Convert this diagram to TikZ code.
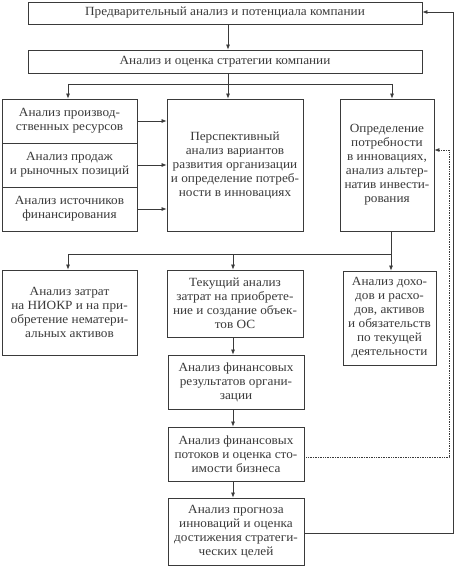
\documentclass[tikz,border=0pt]{standalone}
\usepackage{fontspec}
\setmainfont[FakeStretch=1.06]{Liberation Serif}
\usetikzlibrary{arrows.meta}
\definecolor{ink}{HTML}{3A3A3A}
\begin{document}
\begin{tikzpicture}[x=1pt,y=-1pt,
  box/.style={draw=ink, line width=0.8pt, text=ink, align=center, inner sep=1pt, font=\fontsize{12.5}{14}\selectfont},
  arr/.style={draw=ink, line width=0.7pt, -{Latex[length=5pt,width=4pt]}},
  ln/.style={draw=ink, line width=0.7pt},
]
\fill[white] (0,0) rectangle (455,567);
\useasboundingbox (0,0) rectangle (455,567);

\node[box, minimum width=394pt, minimum height=22pt] (b1) at (225,13) {Предварительный анализ и потенциала компании};
\node[box, minimum width=394pt, minimum height=23pt] (b2) at (225,61.5) {Анализ и оценка стратегии компании};

\node[box, minimum width=135pt, minimum height=44pt] (L1) at (69.5,121) {Анализ производ-\\ственных ресурсов};
\node[box, minimum width=135pt, minimum height=44pt] (L2) at (69.5,165) {Анализ продаж\\и рыночных позиций};
\node[box, minimum width=135pt, minimum height=44pt] (L3) at (69.5,209) {Анализ источников\\финансирования};

\node[box, minimum width=136pt, minimum height=132pt] (C) at (235,165) {Перспективный\\анализ вариантов\\развития организации\\и определение потреб-\\ности в инновациях};
\node[box, minimum width=94pt, minimum height=132pt] (R) at (387,165) {Определение\\потребности\\в инновациях,\\анализ альтер-\\натив инвести-\\рования};

\node[box, minimum width=135pt, minimum height=85pt] (BL) at (69.5,312.5) {Анализ затрат\\на НИОКР и на при-\\обретение нематери-\\альных активов};
\node[box, minimum width=136pt, minimum height=67pt] (BC1) at (235,303.5) {Текущий анализ\\затрат на приобрете-\\ние и создание объек-\\тов ОС};
\node[box, minimum width=93pt, minimum height=94pt] (BR) at (389.5,318) {Анализ дохо-\\дов и расхо-\\дов, активов\\и обязательств\\по текущей\\деятельности};

\node[box, minimum width=136pt, minimum height=54pt] (BC2) at (236,382) {Анализ финансовых\\результатов органи-\\зации};
\node[box, minimum width=136pt, minimum height=54pt] (BC3) at (236,454) {Анализ финансовых\\потоков и оценка сто-\\имости бизнеса};
\node[box, minimum width=136pt, minimum height=67pt] (BC4) at (236,531.5) {Анализ прогноза\\инноваций и оценка\\достижения стратеги-\\ческих целей};

% top connectors
\coordinate (j1) at (228,84);
\coordinate (jl) at (68,84);
\coordinate (jr) at (392,84);
\draw[arr] (j1 |- b1.south) -- (j1 |- b2.north);
\draw[ln] (j1 |- b2.south) -- (j1);
\draw[arr] (j1) -- (j1 |- C.north);
\draw[ln] (jl) -- (jr);
\draw[arr] (jl) -- (jl |- L1.north);
\draw[arr] (jr) -- (jr |- R.north);

\draw[arr] (L1.east) -- (L1.east -| C.west);
\draw[arr] (L2.east) -- (L2.east -| C.west);
\draw[arr] (L3.east) -- (L3.east -| C.west);

% middle connectors
\coordinate (k) at (391,254);
\coordinate (kl) at (68,254);
\coordinate (kc) at (233,254);
\draw[ln] (k |- R.south) -- (k) -- (kl);
\draw[arr] (kl) -- (kl |- BL.north);
\draw[arr] (kc) -- (kc |- BC1.north);
\draw[arr] (k) -- (k |- BR.north);

% chain
\coordinate (v) at (233,0);
\draw[arr] (v |- BC1.south) -- (v |- BC2.north);
\draw[arr] (v |- BC2.south) -- (v |- BC3.north);
\draw[arr] (v |- BC3.south) -- (v |- BC4.north);

% feedback
\coordinate (d1) at (449,457);
\coordinate (d2) at (449,150);
\draw[arr, densely dotted] (BC3.east |- d1) -- (d1) -- (d2) -- (d2 -| R.east);
\coordinate (f1) at (453,533);
\coordinate (f2) at (453,12);
\draw[arr] (BC4.east |- f1) -- (f1) -- (f2) -- (f2 -| b1.east);
\end{tikzpicture}
\end{document}
